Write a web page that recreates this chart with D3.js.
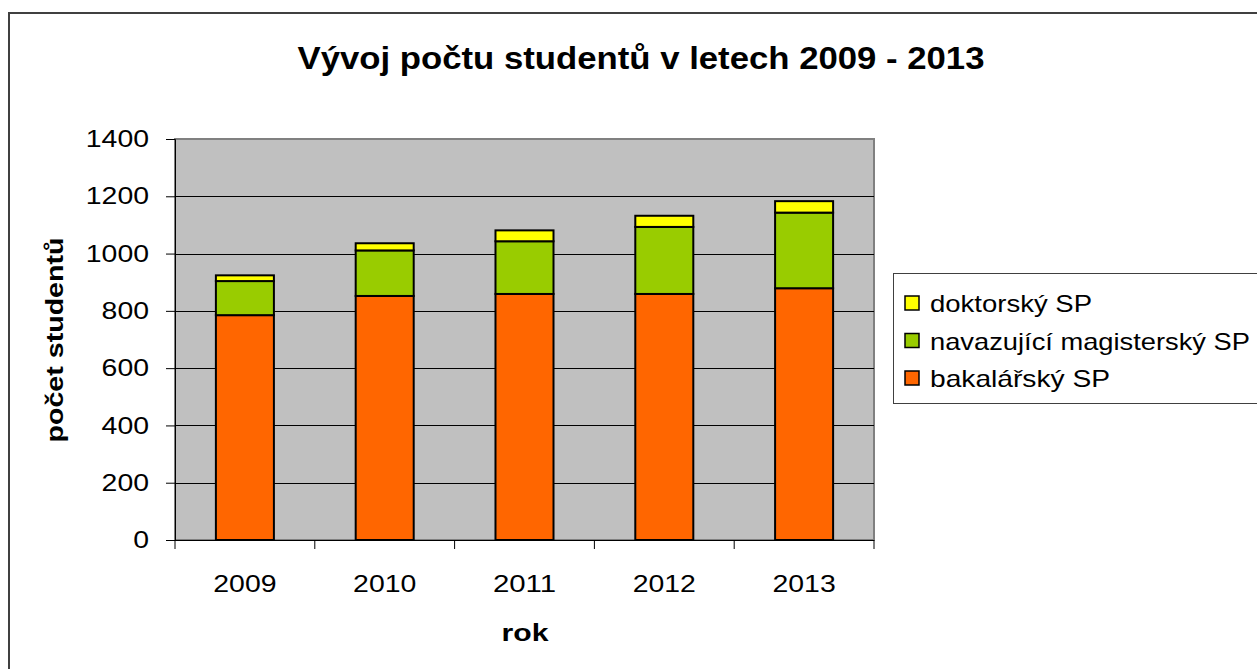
<!DOCTYPE html>
<meta charset="utf-8">
<html>
<head>
  <script src="https://d3js.org/d3.v7.min.js" charset="utf-8"></script>
</head>
<style>
body { margin: 0; background: white; }
text { font-family: "Liberation Sans", Arial, sans-serif; fill: black; }
</style>
<body>
<div id="container"></div>
<script type="text/javascript">

// data
var years = ["2009", "2010", "2011", "2012", "2013"]
var bakalarsky = [785, 852, 859, 859, 879]
var magistersky = [119, 159, 184, 234, 264]
var doktorsky = [20, 25, 38, 39, 40]
var seriesNames = ["bakalářský SP", "navazující magisterský SP", "doktorský SP"]
var seriesColors = ["#ff6600", "#99cc00", "#ffff00"]
var yTicks = [0, 200, 400, 600, 800, 1000, 1200, 1400]

var width = 1257
var height = 669
var plot = {left: 175, right: 874, top: 139, bottom: 540}
var fontSize = 24
// the original font is wider than Liberation Sans, so stretch glyphs a bit
var digitW = 15.8

var svg = d3.select("#container").append("svg")
            .attr("width", width)
            .attr("height", height)

// outer chart border
svg.append("rect")
   .attr("x", 9).attr("y", 13)
   .attr("width", width + 20).attr("height", height + 20)
   .attr("fill", "white")
   .attr("stroke", "#404040")
   .attr("stroke-width", 2)

svg.append("text")
   .attr("x", 641).attr("y", 69)
   .attr("text-anchor", "middle")
   .attr("font-size", 31).attr("font-weight", "bold")
   .attr("textLength", 687).attr("lengthAdjust", "spacingAndGlyphs")
   .text("Vývoj počtu studentů v letech 2009 - 2013")

var x = d3.scaleBand().domain(years).range([plot.left, plot.right]).paddingInner(0.585).paddingOuter(0.2925)
var xTickScale = d3.scaleBand().domain(years).range([plot.left, plot.right])
var y = d3.scaleLinear().domain([0, 1400]).range([plot.bottom, plot.top])

// plot background
svg.append("rect")
   .attr("x", plot.left).attr("y", plot.top)
   .attr("width", plot.right - plot.left).attr("height", plot.bottom - plot.top)
   .attr("fill", "#c0c0c0")
   .attr("stroke", "#808080")
   .attr("stroke-width", 2)

// gridlines
svg.append("g").selectAll("line")
   .data(yTicks.slice(1, -1))
   .join("line")
   .attr("x1", plot.left).attr("x2", plot.right)
   .attr("y1", d => Math.round(y(d)) + 0.5).attr("y2", d => Math.round(y(d)) + 0.5)
   .attr("stroke", "black")

// stacked bars
var table = years.map((yr, i) => ({year: yr, b: bakalarsky[i], m: magistersky[i], d: doktorsky[i]}))
var stack = d3.stack().keys(["b", "m", "d"])(table)

svg.append("g").selectAll("g")
   .data(stack)
   .join("g")
   .attr("fill", (s, i) => seriesColors[i])
   .selectAll("rect")
   .data(s => s)
   .join("rect")
   .attr("x", d => x(d.data.year))
   .attr("width", x.bandwidth())
   .attr("y", d => y(d[1]))
   .attr("height", d => y(d[0]) - y(d[1]))
   .attr("stroke", "black")
   .attr("stroke-width", 2)

// y axis
var yAxis = d3.axisLeft(y).tickValues(yTicks).tickFormat(d3.format("d")).tickSize(9).tickPadding(17)
var yg = svg.append("g").attr("transform", "translate(" + plot.left + ",0)").call(yAxis)
yg.select(".domain").attr("stroke", "black")
yg.selectAll(".tick line").attr("stroke", "black")
yg.selectAll("text")
  .attr("font-size", fontSize).attr("font-family", "Liberation Sans, Arial, sans-serif")
  .attr("textLength", function() { return this.textContent.length * digitW })
  .attr("lengthAdjust", "spacingAndGlyphs")

// x axis
var xAxis = d3.axisBottom(xTickScale).tickSize(0).tickPadding(35)
var xg = svg.append("g").attr("transform", "translate(0," + plot.bottom + ")").call(xAxis)
xg.select(".domain").attr("d", "M" + plot.left + ",0.5H" + plot.right).attr("stroke", "black")
xg.selectAll("text")
  .attr("font-size", fontSize).attr("font-family", "Liberation Sans, Arial, sans-serif")
  .attr("textLength", function() { return this.textContent.length * digitW })
  .attr("lengthAdjust", "spacingAndGlyphs")
xg.append("g").selectAll("line")
  .data(d3.range(years.length + 1))
  .join("line")
  .attr("x1", i => plot.left + i * xTickScale.step()).attr("x2", i => plot.left + i * xTickScale.step())
  .attr("y1", 0).attr("y2", 9)
  .attr("stroke", "black")

// axis titles
svg.append("text")
   .attr("transform", "translate(63,340) rotate(-90)")
   .attr("text-anchor", "middle")
   .attr("font-size", fontSize).attr("font-weight", "bold")
   .attr("textLength", 205).attr("lengthAdjust", "spacingAndGlyphs")
   .text("počet studentů")

svg.append("text")
   .attr("x", 525).attr("y", 641)
   .attr("text-anchor", "middle")
   .attr("font-size", fontSize).attr("font-weight", "bold")
   .attr("textLength", 47).attr("lengthAdjust", "spacingAndGlyphs")
   .text("rok")

// legend
var legend = svg.append("g")
legend.append("rect")
      .attr("x", 893.5).attr("y", 273.5)
      .attr("width", 400).attr("height", 130)
      .attr("fill", "white")
      .attr("stroke", "#404040")

var legendOrder = [2, 1, 0]
var legendWidths = [180, 320, 162]
legendOrder.forEach(function(k, row) {
  var cy = 303 + row * 37.5
  legend.append("rect")
        .attr("x", 905).attr("y", cy - 7)
        .attr("width", 14).attr("height", 14)
        .attr("fill", seriesColors[k])
        .attr("stroke", "black").attr("stroke-width", 1.5)
  legend.append("text")
        .attr("x", 930).attr("y", cy + 9)
        .attr("font-size", fontSize)
        .attr("textLength", legendWidths[k]).attr("lengthAdjust", "spacingAndGlyphs")
        .text(seriesNames[k])
})

</script>
</body>
</html>
